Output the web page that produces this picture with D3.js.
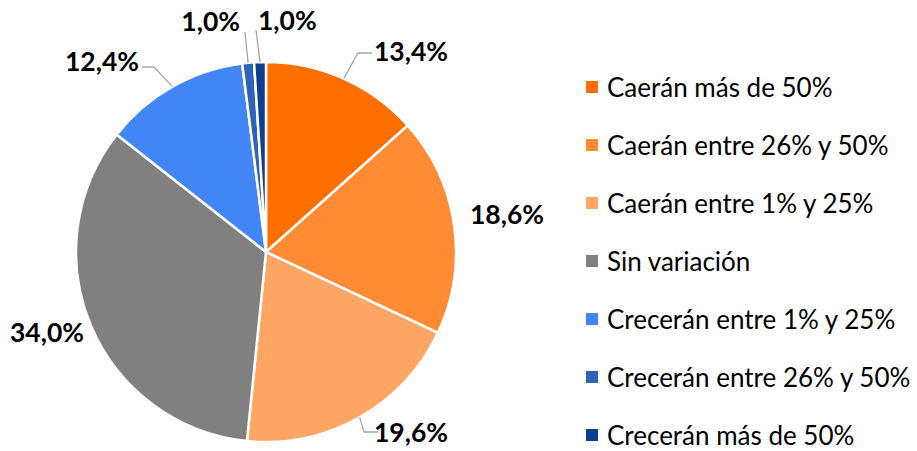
<!DOCTYPE html>
<html>
<head>
<meta charset="utf-8">
<script src="https://cdn.jsdelivr.net/npm/d3@7"></script>
<style>
  body { margin: 0; background: #fff; }
  text { font-family: Lato, "Open Sans", sans-serif; }
</style>
</head>
<body>
<div id="chart"></div>
<script>
const categories = [
    "Caerán más de 50%",
    "Caerán entre 26% y 50%",
    "Caerán entre 1% y 25%",
    "Sin variación",
    "Crecerán entre 1% y 25%",
    "Crecerán entre 26% y 50%",
    "Crecerán más de 50%"
];
const values = [13.4, 18.6, 19.6, 34.0, 12.4, 1.0, 1.0];
const colors = ["#ff6f00", "#ff8b35", "#ffa665", "#808080", "#4285f4", "#2f62b8", "#0f3d91"];

const width = 917, height = 451;
const cx = 266, cy = 252, radius = 190;

// label placement relative to pie centre; elbow / tip for leader lines
const labelLayout = [
    { x: 108, y: -201, anchor: "start", elbow: [92, -199] },
    { x: 204, y: -38, anchor: "start" },
    { x: 108, y: 180, anchor: "start", elbow: [98, 180] },
    { x: -219, y: 80, anchor: "middle" },
    { x: -127, y: -191, anchor: "end", elbow: [-112, -185] },
    { x: -26, y: -231, anchor: "end", tip: [-21, -220] },
    { x: -8, y: -232, anchor: "start", tip: [-10, -222] }
];

const svg = d3.select("#chart")
    .append("svg")
    .attr("width", width)
    .attr("height", height);

const g = svg.append("g")
    .attr("transform", `translate(${cx}, ${cy})`);

const pie = d3.pie().sort(null).value(d => d);
const arcs = pie(values);

const arc = d3.arc().innerRadius(0).outerRadius(radius);

g.selectAll("path.slice")
    .data(arcs)
    .join("path")
    .attr("class", "slice")
    .attr("d", arc)
    .attr("fill", (d, i) => colors[i])
    .attr("stroke", "#fff")
    .attr("stroke-width", 2.5);

const fmt = v => v.toFixed(1).replace(".", ",") + "%";

// leader lines
arcs.forEach((d, i) => {
    const L = labelLayout[i];
    if (!L.elbow && !L.tip) return;
    const mid = (d.startAngle + d.endAngle) / 2;
    const p0 = [Math.sin(mid) * radius, -Math.cos(mid) * radius];
    let pts;
    if (L.tip) {
        pts = [p0, L.tip];
    } else {
        const end = [L.elbow[0] + (L.anchor === "end" ? -12 : 14), L.elbow[1]];
        pts = [p0, L.elbow, end];
    }
    g.append("polyline")
        .attr("points", pts.map(p => p.join(",")).join(" "))
        .attr("fill", "none")
        .attr("stroke", "#a6a6a6")
        .attr("stroke-width", 1.3);
});

g.selectAll("text.lbl")
    .data(arcs)
    .join("text")
    .attr("class", "lbl")
    .attr("x", (d, i) => labelLayout[i].x)
    .attr("y", (d, i) => labelLayout[i].y)
    .attr("text-anchor", (d, i) => labelLayout[i].anchor)
    .attr("dominant-baseline", "central")
    .attr("font-size", 26.5)
    .attr("font-weight", "bold")
    .attr("fill", "#000")
    .text(d => fmt(d.data));

// legend
const legendY = d3.scalePoint()
    .domain(categories)
    .range([87, 435]);

const legend = svg.append("g")
    .selectAll("g")
    .data(categories)
    .join("g")
    .attr("transform", d => `translate(586, ${legendY(d)})`);

legend.append("rect")
    .attr("x", 0)
    .attr("y", -6)
    .attr("width", 12)
    .attr("height", 12)
    .attr("fill", (d, i) => colors[i]);

legend.append("text")
    .attr("x", 21)
    .attr("y", 0)
    .attr("dominant-baseline", "central")
    .attr("font-size", 26)
    .attr("fill", "#000")
    .text(d => d);
</script>
</body>
</html>
